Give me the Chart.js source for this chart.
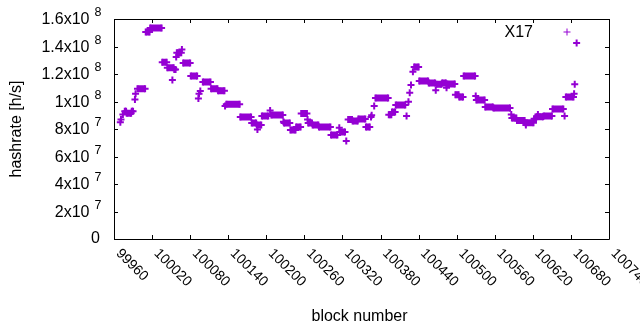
<!DOCTYPE html>
<html lang="en">
<head>
<meta charset="UTF-8">
<title>X17 hashrate</title>
<script src="https://cdn.jsdelivr.net/npm/chart.js"></script>
<style>
  body { margin: 0; background: #fff; }
  canvas { display: block; }
</style>
</head>
<body>
<canvas id="chart" width="640" height="330"></canvas>
<script>
// runs of (nearly) constant hashrate: first block, last block, value in h/s
const runStart = [
  99970, 99971, 99974, 99977, 99980, 99988, 99993, 99994, 99997, 100010,
  100017, 100036, 100044, 100052, 100055, 100058, 100059, 100067, 100069, 100081,
  100093, 100094, 100096, 100100, 100113, 100124, 100135, 100137, 100159, 100177,
  100185, 100186, 100193, 100206, 100208, 100227, 100228, 100238, 100247, 100255,
  100265, 100266, 100273, 100283, 100302, 100315, 100316, 100326, 100329, 100336,
  100345, 100357, 100365, 100366, 100370, 100372, 100393, 100398, 100404, 100421,
  100424, 100426, 100428, 100431, 100433, 100441, 100456, 100467, 100468, 100477,
  100484, 100485, 100498, 100504, 100511, 100530, 100531, 100545, 100558, 100586,
  100587, 100595, 100608, 100609, 100622, 100626, 100628, 100637, 100651, 100670,
  100672, 100685, 100686, 100689
];
const runEnd = [
  99970, 99971, 99974, 99979, 99987, 99990, 99993, 99994, 100009, 100016,
  100035, 100043, 100054, 100052, 100057, 100058, 100066, 100067, 100080, 100091,
  100093, 100094, 100096, 100112, 100123, 100134, 100135, 100158, 100176, 100184,
  100192, 100186, 100203, 100206, 100226, 100227, 100237, 100246, 100254, 100264,
  100265, 100272, 100282, 100301, 100312, 100315, 100324, 100326, 100335, 100344,
  100356, 100363, 100365, 100366, 100370, 100392, 100397, 100403, 100419, 100421,
  100424, 100426, 100428, 100431, 100440, 100455, 100466, 100467, 100476, 100483,
  100484, 100497, 100503, 100510, 100529, 100530, 100544, 100557, 100584, 100586,
  100594, 100607, 100621, 100609, 100625, 100636, 100628, 100650, 100668, 100670,
  100684, 100685, 100686, 100689
];
const runRate = [
  8.50e7, 8.70e7, 9.06e7, 9.30e7, 9.15e7, 9.30e7, 1.015e8, 1.057e8, 1.093e8, 1.505e8,
  1.535e8, 1.285e8, 1.246e8, 1.156e8, 1.233e8, 1.324e8, 1.355e8, 1.379e8, 1.280e8, 1.185e8,
  1.022e8, 1.057e8, 1.076e8, 1.142e8, 1.093e8, 1.078e8, 9.67e7, 9.80e7, 8.87e7, 8.43e7,
  8.29e7, 7.97e7, 8.95e7, 9.35e7, 9.02e7, 8.53e7, 8.44e7, 7.93e7, 8.15e7, 9.13e7,
  8.70e7, 8.44e7, 8.29e7, 8.15e7, 7.56e7, 8.09e7, 7.78e7, 7.13e7, 8.70e7, 8.58e7,
  8.73e7, 8.15e7, 8.87e7, 9.00e7, 9.67e7, 1.025e8, 9.04e7, 9.24e7, 9.75e7, 8.95e7,
  9.99e7, 1.064e8, 1.120e8, 1.217e8, 1.251e8, 1.149e8, 1.135e8, 1.081e8, 1.125e8, 1.135e8,
  1.100e8, 1.127e8, 1.050e8, 1.033e8, 1.185e8, 1.040e8, 1.011e8, 9.60e7, 9.53e7, 9.06e7,
  8.80e7, 8.62e7, 8.46e7, 8.29e7, 8.75e7, 8.89e7, 9.06e7, 8.95e7, 9.45e7, 8.95e7,
  1.033e8, 1.057e8, 1.125e8, 1.425e8
];

const blockTicks = [99960, 100020, 100080, 100140, 100200, 100260, 100320,
                    100380, 100440, 100500, 100560, 100620, 100680, 100740];
const rateTicks = [0, 2e7, 4e7, 6e7, 8e7, 1e8, 1.2e8, 1.4e8, 1.6e8];
const rateMant = ['0', '2x10', '4x10', '6x10', '8x10', '1x10', '1.2x10', '1.4x10', '1.6x10'];
const rateExp = ['', '7', '7', '7', '7', '8', '8', '8', '8'];

const PURPLE = '#9400d3';
const FONT = '"Liberation Sans", Arial, sans-serif';
const TICK = 4;

// each run becomes a short segment; null breaks the line between runs
const points = [];
runStart.forEach((s, i) => {
  points.push({ x: s, y: runRate[i] });
  if (runEnd[i] !== s) points.push({ x: runEnd[i], y: runRate[i] });
  points.push({ x: runEnd[i], y: null });
});

// gnuplot-ish frame, inward ticks, tick labels, axis labels and key
const gnuplotLook = {
  id: 'gnuplotLook',
  afterDraw(chart) {
    const { ctx, chartArea: a, scales: { x, y } } = chart;
    ctx.save();
    ctx.strokeStyle = '#000';
    ctx.lineWidth = 1;
    ctx.beginPath();
    ctx.rect(a.left + 0.5, a.top + 0.5, a.right - a.left, a.bottom - a.top);
    x.ticks.forEach(t => {
      const px = Math.round(x.getPixelForValue(t.value)) + 0.5;
      ctx.moveTo(px, a.bottom); ctx.lineTo(px, a.bottom - TICK);
      ctx.moveTo(px, a.top); ctx.lineTo(px, a.top + TICK);
    });
    y.ticks.forEach(t => {
      const py = Math.round(y.getPixelForValue(t.value)) + 0.5;
      ctx.moveTo(a.left, py); ctx.lineTo(a.left + TICK, py);
      ctx.moveTo(a.right, py); ctx.lineTo(a.right - TICK, py);
    });
    ctx.stroke();

    ctx.fillStyle = '#000';
    // x tick labels, rotated 45 degrees clockwise
    ctx.font = '14px ' + FONT;
    ctx.textAlign = 'left';
    ctx.textBaseline = 'alphabetic';
    blockTicks.forEach(v => {
      const px = x.getPixelForValue(v);
      ctx.save();
      ctx.translate(px + 1.5, 254);
      ctx.rotate(Math.PI / 4);
      ctx.fillText(String(v), 0, 0);
      ctx.restore();
    });

    // y tick labels with raised exponent
    ctx.textBaseline = 'middle';
    rateTicks.forEach((v, i) => {
      const py = y.getPixelForValue(v);
      ctx.font = '16px ' + FONT;
      ctx.textAlign = 'right';
      if (!rateExp[i]) {
        ctx.fillText(rateMant[i], 100, py);
        return;
      }
      ctx.fillText(rateMant[i], 89.5, py + 1);
      ctx.font = '12.5px ' + FONT;
      ctx.textAlign = 'left';
      ctx.fillText(rateExp[i], 94.5, py - 6);
    });

    // axis titles
    ctx.font = '16px ' + FONT;
    ctx.textAlign = 'center';
    ctx.textBaseline = 'alphabetic';
    ctx.fillText('block number', (a.left + a.right) / 2 - 2, 321);
    ctx.save();
    ctx.translate(17, (a.top + a.bottom) / 2);
    ctx.rotate(-Math.PI / 2);
    ctx.textBaseline = 'middle';
    ctx.fillText('hashrate [h/s]', 0, 0);
    ctx.restore();

    // key
    const ds = chart.data.datasets[0];
    ctx.textAlign = 'right';
    ctx.fillText(ds.label, 533, 37);
    ctx.strokeStyle = PURPLE;
    Chart.helpers.drawPoint(ctx, { pointStyle: 'cross', radius: 3.5, borderWidth: 2 }, 567, 32);
    ctx.restore();
  }
};

new Chart(document.getElementById('chart'), {
  type: 'line',
  data: {
    datasets: [{
      label: 'X17',
      data: points,
      borderColor: PURPLE,
      borderWidth: 7,
      borderCapStyle: 'butt',
      pointStyle: 'cross',
      pointRadius: 3.5,
      pointBorderWidth: 2,
      pointBorderColor: PURPLE,
      pointBackgroundColor: PURPLE,
      spanGaps: false,
      tension: 0
    }]
  },
  options: {
    responsive: false,
    animation: false,
    events: [],
    layout: { padding: { top: 19, right: 31, left: 0, bottom: 0 } },
    plugins: { legend: { display: false }, tooltip: { enabled: false } },
    scales: {
      x: {
        type: 'linear',
        min: blockTicks[0],
        max: blockTicks[blockTicks.length - 1],
        afterBuildTicks: s => { s.ticks = blockTicks.map(v => ({ value: v })); },
        afterFit: s => { s.height = 91; },
        ticks: { display: false },
        grid: { display: false },
        border: { display: false }
      },
      y: {
        type: 'linear',
        min: rateTicks[0],
        max: rateTicks[rateTicks.length - 1],
        afterBuildTicks: s => { s.ticks = rateTicks.map(v => ({ value: v })); },
        afterFit: s => { s.width = 114; },
        ticks: { display: false },
        grid: { display: false },
        border: { display: false }
      }
    }
  },
  plugins: [gnuplotLook]
});
</script>
</body>
</html>
